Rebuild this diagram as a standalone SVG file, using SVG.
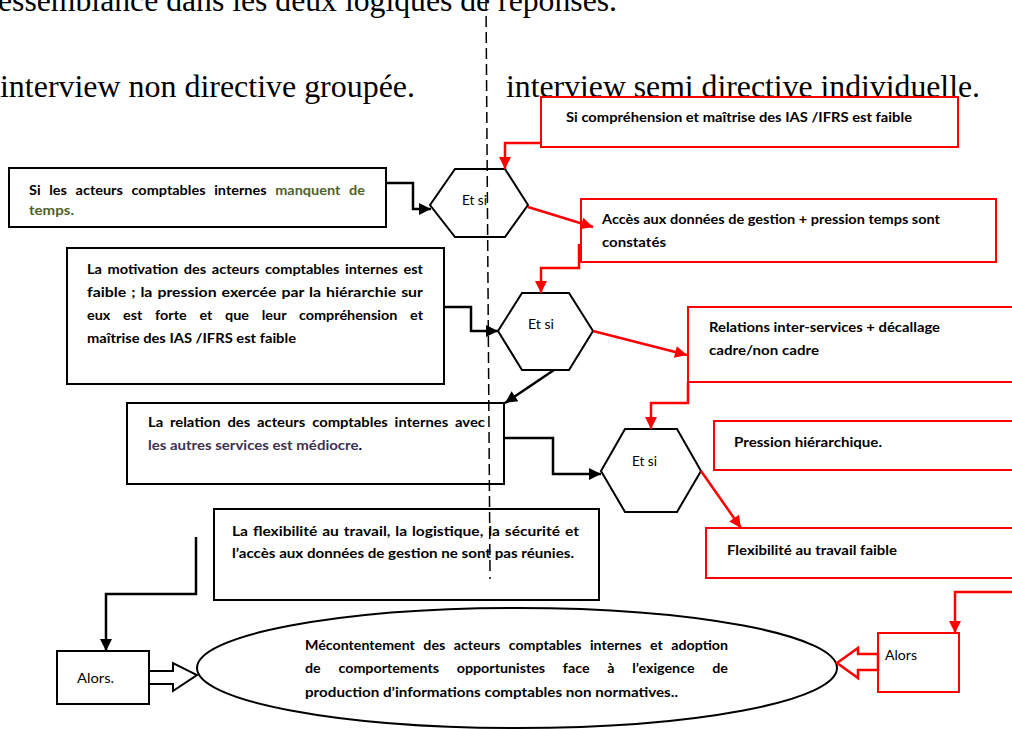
<svg xmlns="http://www.w3.org/2000/svg" width="1012" height="729" viewBox="0 0 1012 729">
<style>
.bg{fill:#fff}
.box{fill:#fff;stroke:#000;stroke-width:2}
.rbox{fill:#fff;stroke:#f00;stroke-width:2}
.hex{fill:#fff;stroke:#000;stroke-width:2}
.blk{fill:none;stroke:#000;stroke-width:2.5}
.red{fill:none;stroke:#f00;stroke-width:2.5}
.serif{font-family:"Liberation Serif","Times New Roman",serif;font-size:31px;fill:#000}
.t{font-family:Lato,"Open Sans",sans-serif;font-size:14px;font-weight:bold;fill:#000}
.n{font-family:Lato,"Open Sans",sans-serif;font-size:13px;fill:#000}
.g{fill:#4F6228}
.p{fill:#403152}
</style>
<defs>
<marker id="ab" viewBox="0 0 10 10" refX="10" refY="5" markerWidth="14" markerHeight="12" markerUnits="userSpaceOnUse" orient="auto"><path d="M0,0 L10,5 L0,10 z" fill="#000"/></marker>
<marker id="ar" viewBox="0 0 10 10" refX="10" refY="5" markerWidth="14" markerHeight="12" markerUnits="userSpaceOnUse" orient="auto"><path d="M0,0 L10,5 L0,10 z" fill="#f00"/></marker>
</defs>
<rect class="bg" x="0" y="0" width="1012" height="729"/>

<g id="headings">
<text class="serif" x="-2" y="11" textLength="619" lengthAdjust="spacingAndGlyphs">essemblance dans les deux logiques de réponses.</text>
<text class="serif" x="0" y="97" textLength="415" lengthAdjust="spacingAndGlyphs">interview non directive groupée.</text>
<text class="serif" x="506" y="97" textLength="474" lengthAdjust="spacingAndGlyphs">interview semi directive individuelle.</text>
</g>

<g id="boxA">
<rect class="box" x="9" y="168" width="377" height="59"/>
<text class="t" x="29" y="195" style="word-spacing:5px" textLength="336" lengthAdjust="spacingAndGlyphs">Si les acteurs comptables internes <tspan class="g">manquent de</tspan></text>
<text class="t g" x="29" y="215" textLength="45" lengthAdjust="spacingAndGlyphs">temps.</text>
</g>

<g id="R1">
<rect class="rbox" x="541" y="97" width="417" height="50"/>
<text class="t" x="566" y="122" textLength="346" lengthAdjust="spacingAndGlyphs">Si compréhension et maîtrise des IAS /IFRS est faible</text>
</g>

<g id="hex1">
<polygon class="hex" points="430,205 455,169 505,169 528,205 505,237 455,237"/>
<text class="n" x="462" y="205" textLength="25" lengthAdjust="spacingAndGlyphs">Et si</text>
</g>

<g id="R2">
<rect class="rbox" x="581" y="199" width="415" height="63"/>
<text class="t" x="602" y="224" textLength="338" lengthAdjust="spacingAndGlyphs">Accès aux données de gestion + pression temps sont</text>
<text class="t" x="602" y="247" textLength="64" lengthAdjust="spacingAndGlyphs">constatés</text>
</g>

<g id="boxB">
<rect class="box" x="67" y="248" width="377" height="136"/>
<text class="t" x="87" y="274" style="word-spacing:2px" textLength="336" lengthAdjust="spacingAndGlyphs">La motivation des acteurs comptables internes est</text>
<text class="t" x="87" y="297" style="word-spacing:1px" textLength="336" lengthAdjust="spacingAndGlyphs">faible ; la pression exercée par la hiérarchie sur</text>
<text class="t" x="87" y="320" style="word-spacing:9px" textLength="336" lengthAdjust="spacingAndGlyphs">eux est forte et que leur compréhension et</text>
<text class="t" x="87" y="343" textLength="209" lengthAdjust="spacingAndGlyphs">maîtrise des IAS /IFRS est faible</text>
</g>

<g id="hex2">
<polygon class="hex" points="498,331 522,293 569,293 593,331 569,370 522,370"/>
<text class="n" x="528" y="329" textLength="26" lengthAdjust="spacingAndGlyphs">Et si</text>
</g>

<g id="R3">
<rect class="rbox" x="688" y="307" width="340" height="75"/>
<text class="t" x="709" y="332" textLength="231" lengthAdjust="spacingAndGlyphs">Relations inter-services + décallage</text>
<text class="t" x="709" y="355" textLength="110" lengthAdjust="spacingAndGlyphs">cadre/non cadre</text>
</g>

<g id="boxC">
<rect class="box" x="127" y="403" width="377" height="81"/>
<text class="t" x="148" y="427" style="word-spacing:3px" textLength="337" lengthAdjust="spacingAndGlyphs">La relation des acteurs comptables internes avec</text>
<text class="t" x="148" y="450" textLength="214" lengthAdjust="spacingAndGlyphs"><tspan class="p">les autres services est médiocre</tspan>.</text>
</g>

<g id="hex3">
<polygon class="hex" points="601,471 625,429 677,429 701,471 677,512 625,512"/>
<text class="n" x="632" y="466" textLength="25" lengthAdjust="spacingAndGlyphs">Et si</text>
</g>

<g id="R4">
<rect class="rbox" x="714" y="421" width="320" height="49"/>
<text class="t" x="734" y="447" textLength="148" lengthAdjust="spacingAndGlyphs">Pression hiérarchique.</text>
</g>

<g id="R5">
<rect class="rbox" x="706" y="528" width="320" height="50"/>
<text class="t" x="727" y="555" textLength="170" lengthAdjust="spacingAndGlyphs">Flexibilité au travail faible</text>
</g>

<g id="boxD">
<rect class="box" x="214" y="509" width="385" height="91"/>
<text class="t" x="232" y="536" style="word-spacing:1px" textLength="347" lengthAdjust="spacingAndGlyphs">La flexibilité au travail, la logistique, la sécurité et</text>
<text class="t" x="232" y="558" textLength="342" lengthAdjust="spacingAndGlyphs">l’accès aux données de gestion ne sont pas réunies.</text>
</g>

<g id="alorsL">
<rect class="box" x="57" y="651" width="92" height="53"/>
<text class="n" x="77" y="683" textLength="37" lengthAdjust="spacingAndGlyphs">Alors.</text>
</g>

<g id="alorsR">
<rect class="rbox" x="878" y="633" width="81" height="59"/>
<text class="n" x="885" y="660" textLength="32" lengthAdjust="spacingAndGlyphs">Alors</text>
</g>

<g id="result">
<ellipse cx="517" cy="668" rx="320" ry="60" fill="#fff" stroke="#000" stroke-width="2"/>
<text class="t" x="305" y="650" style="word-spacing:5px" textLength="423" lengthAdjust="spacingAndGlyphs">Mécontentement des acteurs comptables internes et adoption</text>
<text class="t" x="305" y="673" style="word-spacing:14px" textLength="423" lengthAdjust="spacingAndGlyphs">de comportements opportunistes face à l’exigence de</text>
<text class="t" x="305" y="697" textLength="373" lengthAdjust="spacingAndGlyphs">production d’informations comptables non normatives..</text>
</g>

<g id="connectors">
<path class="blk" d="M386,183 H413 V209 H431" marker-end="url(#ab)"/>
<path class="red" d="M541,143 H505 V169" marker-end="url(#ar)"/>
<path class="red" d="M528,207 L593,227" marker-end="url(#ar)"/>
<path class="red" d="M579,244 V268 H541 V293" marker-end="url(#ar)"/>
<path class="blk" d="M444,307 H471 V331 H498" marker-end="url(#ab)"/>
<path class="red" d="M593,331 L687,355" marker-end="url(#ar)"/>
<path class="blk" d="M554,370 L505,403" marker-end="url(#ab)"/>
<path class="blk" d="M504,438 H553 V474 H601" marker-end="url(#ab)"/>
<path class="red" d="M688,382 V403 H651 V429" marker-end="url(#ar)"/>
<path class="red" d="M701,471 L741,528" marker-end="url(#ar)"/>
<path class="red" d="M1012,592 H955 V633" marker-end="url(#ar)"/>
<path class="blk" d="M196,537 V594 H106 V651" marker-end="url(#ab)"/>
<polygon points="149,671 173,671 173,663 197,675 173,691 173,684 149,684" fill="#fff" stroke="#000" stroke-width="2"/>
<polygon points="878,654 858,654 858,648 837,663 858,678 858,670 878,670" fill="#fff" stroke="#f00" stroke-width="2.5"/>
</g>

<g id="divider">
<path d="M486,0 L490,572" fill="none" stroke="#000" stroke-width="1.5" stroke-dasharray="11 5"/>
<circle cx="490" cy="578" r="1" fill="#000"/>
</g>
</svg>
